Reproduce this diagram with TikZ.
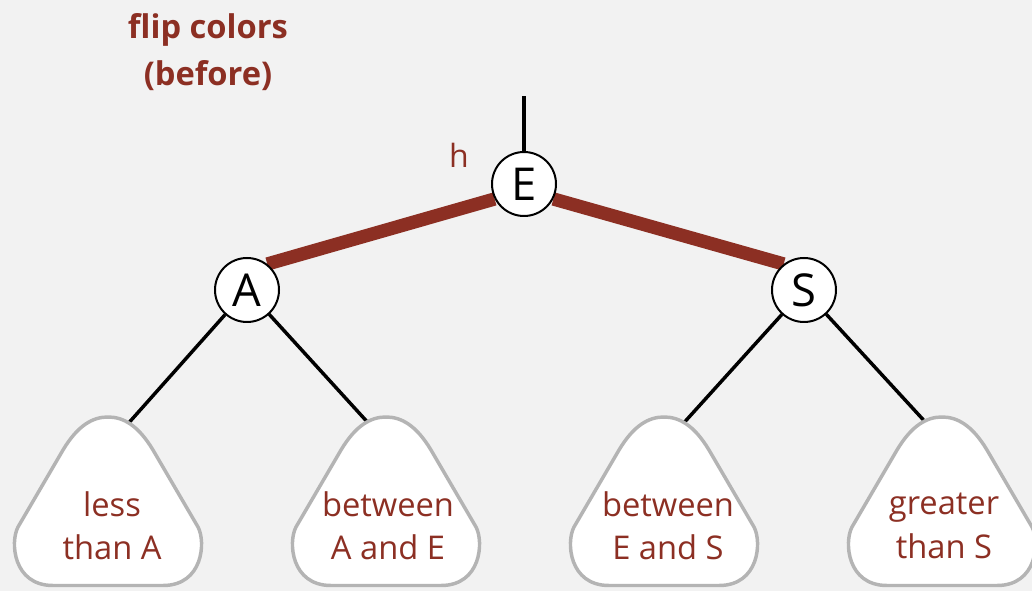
\documentclass[tikz,border=0pt]{standalone}
\usepackage{fontspec}
\setmainfont{Open Sans}
\usepackage{tikz}
\usetikzlibrary{backgrounds}

\definecolor{bookred}{RGB}{140,47,35}
\definecolor{treegray}{RGB}{180,180,180}
\definecolor{paper}{RGB}{242,242,242}

% one rounded subtree triangle, #1 = x of its middle
\newcommand{\subtreeshape}[1]{%
  \draw[subtree, shift={(#1,0)}] (0,585.5) -- (-55,585.5)
    .. controls (-95,585.5) and (-98,542) .. (-90,527) -- (-45,450)
    .. controls (-30,425) and (-15,417) .. (0,417)
    .. controls (15,417) and (30,425) .. (45,450) -- (90,527)
    .. controls (98,542) and (95,585.5) .. (55,585.5) -- cycle;}

\begin{document}
\begin{tikzpicture}[x=0.75pt,y=-0.75pt,
  treenode/.style={circle,draw,line width=1.5pt,fill=white,minimum size=48pt,
    inner sep=0pt,font=\fontsize{34}{34}\selectfont},
  subtree/.style={draw=treegray,line width=2.6pt,fill=white},
  redlink/.style={bookred,line width=10pt},
  blacklink/.style={black,line width=2.6pt},
  subtext/.style={bookred,align=center,font=\fontsize{24.5}{32.5}\selectfont}]
\useasboundingbox (0,0) rectangle (1032,591);

% the three nodes
\node[treenode] (E) at (524,184) {E};
\node[treenode] (A) at (247,290) {A};
\node[treenode] (S) at (804,290) {S};
\node[bookred,font=\fontsize{24}{24}\selectfont] (h) at (459,155) {h};

\node[bookred,align=center,font=\bfseries\fontsize{24.5}{35}\selectfont] (title) at (208,52)
  {flip colors\\(before)};

% subtrees
\foreach \cx in {108,386,664,942} {\subtreeshape{\cx}}
\node[subtext] (lessA) at (112,526) {less\\than A};
\node[subtext] (betAE) at (388,526) {between\\A and E};
\node[subtext] (betES) at (668,526) {between\\E and S};
\node[subtext] (grS) at (944,526) {greater\\than S};

\coordinate (up) at (524,96);
\coordinate (t1) at (126,426);
\coordinate (t2) at (371,426);
\coordinate (t3) at (681,426);
\coordinate (t4) at (929,426);

\begin{scope}[on background layer]
\fill[paper] (0,0) rectangle (1032,591);
\draw[redlink] (E.207) -- (A.52);
\draw[redlink] (E.333) -- (S.128);
\draw[blacklink] (E) -- (up);
\draw[blacklink] (A) -- (t1);
\draw[blacklink] (A) -- (t2);
\draw[blacklink] (S) -- (t3);
\draw[blacklink] (S) -- (t4);
\end{scope}
\end{tikzpicture}
\end{document}
